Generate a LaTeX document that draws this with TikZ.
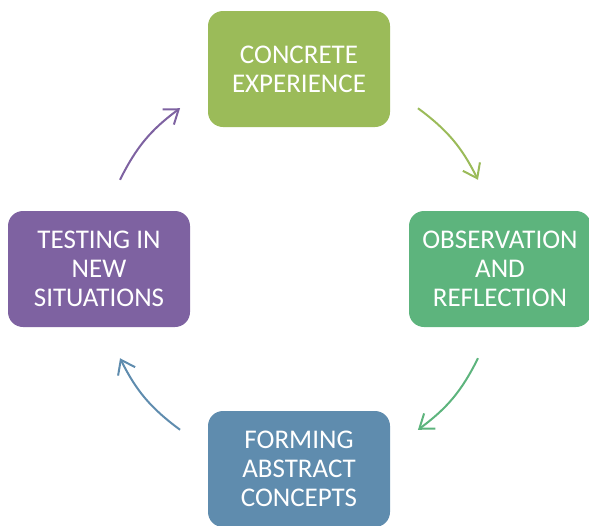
\documentclass[tikz,border=0pt]{standalone}
\usepackage{fontspec}
\setmainfont{Carlito}
\usetikzlibrary{arrows.meta}

\definecolor{expgreen}{HTML}{9BBB59}
\definecolor{obsgreen}{HTML}{5DB47D}
\definecolor{absblue}{HTML}{5F8CAE}
\definecolor{testviolet}{HTML}{7E62A1}

\tikzset{
	stage/.style={draw=none, rounded corners=15pt, minimum width=182pt, minimum height=116pt,
		inner sep=0pt, align=center, text=white, font=\fontsize{27}{29}\selectfont},
	cycle/.style={line width=2pt, -{Straight Barb[length=13pt, width=19pt, line width=2pt]}}
}

\begin{document}
\begin{tikzpicture}[x=1pt, y=-1pt]
	\useasboundingbox (0, 0) rectangle (589, 525);

	\node[stage, fill=expgreen]   (exp)  at (299, 69)  {CONCRETE\\EXPERIENCE};          % Верх
	\node[stage, fill=obsgreen]   (obs)  at (500, 269) {OBSERVATION\\AND\\REFLECTION};  % Справа
	\node[stage, fill=absblue]    (abs)  at (299, 469) {FORMING\\ABSTRACT\\CONCEPTS};   % Низ
	\node[stage, fill=testviolet] (test) at (99, 269)  {TESTING IN\\NEW\\SITUATIONS};   % Слева

	\coordinate (mid) at (299, 269); % Центр круга

	\coordinate (c1s) at ([shift={(53.5:200pt)}]mid);
	\coordinate (c1e) at ([shift={(26.5:200pt)}]mid);
	\coordinate (c2s) at ([shift={(-26.5:200pt)}]mid);
	\coordinate (c2e) at ([shift={(-53.5:200pt)}]mid);
	\coordinate (c3s) at ([shift={(-126.5:200pt)}]mid);
	\coordinate (c3e) at ([shift={(-153.5:200pt)}]mid);
	\coordinate (c4s) at ([shift={(153.5:200pt)}]mid);
	\coordinate (c4e) at ([shift={(126.5:200pt)}]mid);

	\draw[cycle, expgreen]   (c1s) to[bend left=13.5] (c1e);
	\draw[cycle, obsgreen]   (c2s) to[bend left=13.5] (c2e);
	\draw[cycle, absblue]    (c3s) to[bend left=13.5] (c3e);
	\draw[cycle, testviolet] (c4s) to[bend left=13.5] (c4e);
\end{tikzpicture}
\end{document}
